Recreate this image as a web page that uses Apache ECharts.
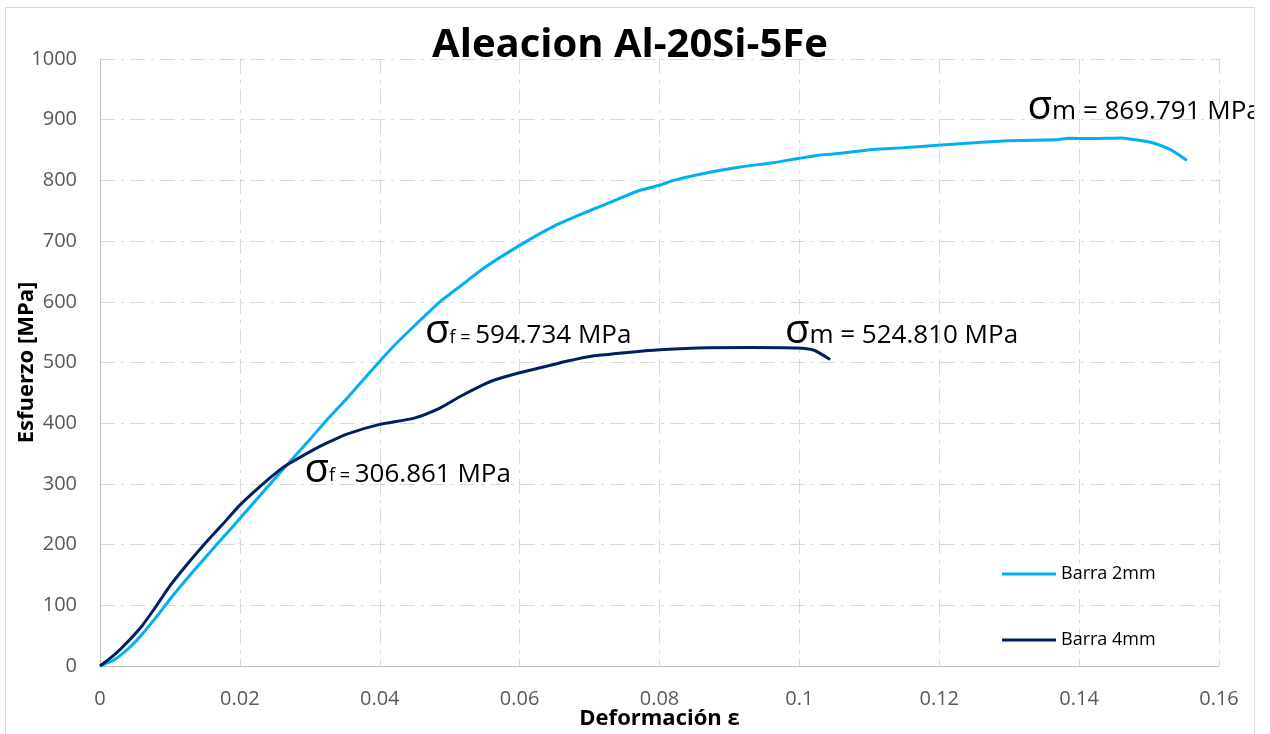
<!DOCTYPE html>
<html>
<head>
<meta charset="utf-8">
<script src="https://cdn.jsdelivr.net/npm/echarts@6/dist/echarts.min.js"></script>
<style>
  html, body { margin: 0; padding: 0; background: #ffffff; width: 1270px; height: 734px; overflow: hidden; }
  #frame {
    position: absolute; left: 5px; top: 7px;
    width: 1248px; height: 740px;
    border: 1px solid #d9d9d9; border-bottom: none;
    overflow: hidden; background: #ffffff;
  }
  #chart { width: 1248px; height: 740px; }
</style>
</head>
<body>
<div id="frame"><div id="chart"></div></div>
<script>
// Stress–strain curves of the Al-20Si-5Fe alloy, two bar diameters
const chartTitle = 'Aleacion Al-20Si-5Fe';
const xAxisTitle = 'Deformación ε';
const yAxisTitle = 'Esfuerzo [MPa]';
const seriesNames = ['Barra 2mm', 'Barra 4mm'];

// Barra 2mm: strain (-) and stress (MPa)
const strain2mm = [0, 0.002, 0.004, 0.006, 0.008, 0.010, 0.012, 0.015, 0.018, 0.020,
  0.0257, 0.030, 0.0324, 0.035, 0.040, 0.0419, 0.045, 0.0486, 0.052, 0.0548,
  0.060, 0.0648, 0.070, 0.0734, 0.077, 0.080, 0.082, 0.0853, 0.0915, 0.0962,
  0.0998, 0.103, 0.1048, 0.1105, 0.115, 0.1198, 0.125, 0.1297, 0.1368, 0.1385,
  0.142, 0.146, 0.148, 0.1505, 0.153, 0.1554];
const stress2mm = [0, 10, 28, 52, 80, 110, 138, 178, 217, 243,
  318, 373, 405, 437, 502, 526, 561, 600, 630, 655,
  693, 724, 750, 766, 783, 792, 800, 809, 822, 829,
  836, 842, 843.5, 851, 854, 858, 862, 865.5, 867, 869.4,
  869, 869.791, 867, 862, 851, 833];

// Barra 4mm: strain (-) and stress (MPa)
const strain4mm = [0, 0.002, 0.0038, 0.006, 0.008, 0.010, 0.0125, 0.0148, 0.0175, 0.020,
  0.0229, 0.0257, 0.0267, 0.0305, 0.0324, 0.0353, 0.040, 0.0448, 0.0486, 0.0515,
  0.0553, 0.0572, 0.060, 0.0653, 0.0667, 0.070, 0.075, 0.080, 0.0855, 0.093,
  0.0996, 0.102, 0.1044];
const stress4mm = [0, 18, 38, 66, 98, 132, 168, 199, 233, 265,
  296, 323, 331, 356, 367, 382, 398, 408, 425, 444,
  466, 474, 483, 498, 502, 510, 516, 521, 524, 524.810,
  524, 520.6, 505];

// Yield (σf) and ultimate (σm) stresses, MPa
const yieldStress = [594.734, 306.861];
const ultimateStress = [869.791, 524.810];

const lineColors = ['#00b0f0', '#002060'];

function pairs(xs, ys) { return xs.map((x, i) => [x, ys[i]]); }
function pointAtPeak(xs, ys) {
  const k = ys.indexOf(Math.max(...ys));
  return [xs[k], ys[k]];
}
function pointAtStress(xs, ys, s) {
  for (let i = 0; i < ys.length - 1; i++) {
    if (ys[i] <= s && ys[i + 1] >= s) {
      const t = (s - ys[i]) / (ys[i + 1] - ys[i]);
      return [xs[i] + t * (xs[i + 1] - xs[i]), s];
    }
  }
  return [xs[0], ys[0]];
}

const fontFamily = '"Open Sans", "Noto Sans", sans-serif';
// bottom padding lifts the smaller tokens onto the baseline of the large sigma
const richStyles = {
  s:   { fontSize: 40, color: '#000', fontFamily: fontFamily, verticalAlign: 'bottom' },
  sub: { fontSize: 18, color: '#000', fontFamily: fontFamily, verticalAlign: 'bottom', padding: [0, 0, 5, 0] },
  v:   { fontSize: 26, color: '#000', fontFamily: fontFamily, verticalAlign: 'bottom', padding: [0, 0, 3, 0] }
};

function yieldLabel(value) { return '{s|σ}{sub|f = }{v|' + value.toFixed(3) + ' MPa}'; }
function peakLabel(value) { return '{s|σ}{v|m = ' + value.toFixed(3) + ' MPa}'; }

function marker(coord, text, offset) {
  return {
    coord: coord,
    symbol: 'circle',
    symbolSize: 1,
    itemStyle: { color: 'rgba(0,0,0,0)' },
    label: {
      show: true,
      formatter: text,
      position: offset,
      align: 'left',
      verticalAlign: 'bottom',
      rich: richStyles
    }
  };
}

const datasets = [[strain2mm, stress2mm], [strain4mm, stress4mm]];
const labelOffsets = [
  { yieldAt: [-11, 47], peakAt: [-93, -10] },
  { yieldAt: [37, 11], peakAt: [35, 5] }
];

const series = datasets.map(([xs, ys], i) => ({
  name: seriesNames[i],
  type: 'line',
  data: pairs(xs, ys),
  showSymbol: false,
  symbol: 'none',
  smooth: 0.2,
  color: lineColors[i],
  lineStyle: { color: lineColors[i], width: 3 },
  markPoint: {
    silent: true,
    animation: false,
    data: [
      marker(pointAtStress(xs, ys, yieldStress[i]), yieldLabel(yieldStress[i]), labelOffsets[i].yieldAt),
      marker(pointAtPeak(xs, ys), peakLabel(ultimateStress[i]), labelOffsets[i].peakAt)
    ]
  }
}));

const gridLine = { show: true, lineStyle: { color: '#d9d9d9', width: 1, type: [15, 6, 3, 6] } };
const axisLine = { show: true, lineStyle: { color: '#bfbfbf', width: 1 } };
const tickFont = { color: '#595959', fontSize: 20, fontFamily: fontFamily };

const chart = echarts.init(document.getElementById('chart'), null, { renderer: 'canvas' });
chart.setOption({
  animation: false,
  backgroundColor: '#ffffff',
  title: {
    text: chartTitle,
    left: 'center',
    top: 13,
    textStyle: { fontSize: 40, fontWeight: 'bold', color: '#000', fontFamily: fontFamily }
  },
  legend: {
    orient: 'vertical',
    left: 991,
    top: 551,
    itemWidth: 54,
    itemHeight: 3,
    itemGap: 46,
    icon: 'rect',
    data: seriesNames,
    textStyle: { fontSize: 18, lineHeight: 20, color: '#000', fontFamily: fontFamily }
  },
  grid: { left: 94, right: 35, top: 51, bottom: 82, containLabel: false, outerBoundsMode: 'none' },
  xAxis: {
    type: 'value',
    min: 0, max: 0.16, interval: 0.02,
    name: xAxisTitle,
    nameLocation: 'middle',
    nameGap: 42,
    nameMoveOverlap: false,
    nameTextStyle: { fontSize: 22, fontWeight: 'bold', color: '#000', fontFamily: fontFamily },
    axisLine: axisLine,
    axisTick: { show: false },
    axisLabel: Object.assign({ margin: 23 }, tickFont),
    splitLine: gridLine
  },
  yAxis: {
    type: 'value',
    min: 0, max: 1000, interval: 100,
    name: yAxisTitle,
    nameLocation: 'middle',
    nameRotate: 90,
    nameGap: 62,
    nameMoveOverlap: false,
    nameTextStyle: { fontSize: 22, fontWeight: 'bold', color: '#000', fontFamily: fontFamily },
    axisLine: axisLine,
    axisTick: { show: false },
    axisLabel: Object.assign({ margin: 23, formatter: v => String(v) }, tickFont),
    splitLine: gridLine
  },
  series: series
});
</script>
</body>
</html>
